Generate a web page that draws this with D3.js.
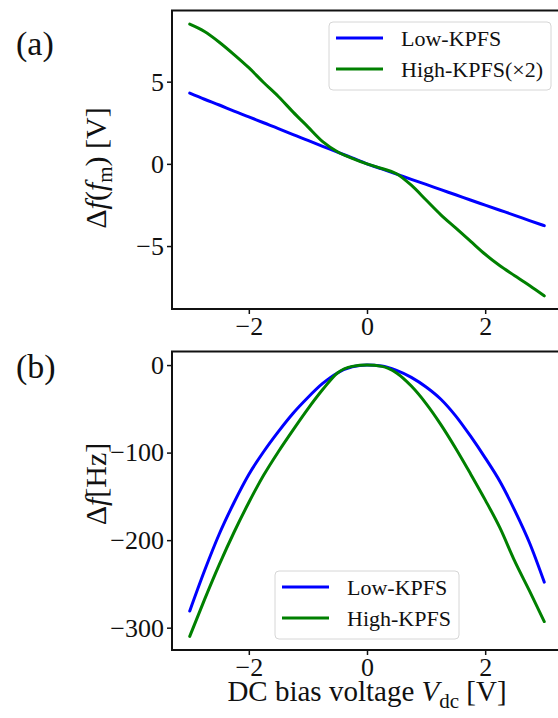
<!DOCTYPE html>
<html>
<head>
<meta charset="utf-8">
<script src="https://cdn.jsdelivr.net/npm/d3@7"></script>
<style>
  body { margin: 0; background: #fff; }
  svg { display: block; }
  svg text { font-family: 'Liberation Serif', 'Times New Roman', Times, serif; }
</style>
</head>
<body>
<div id="chart"></div>
<script>
// bias voltage samples (V)
const vdc = [-3, -2.75, -2.5, -2.25, -2, -1.75, -1.5, -1.25, -1, -0.75, -0.5, -0.25, 0,
  0.25, 0.5, 0.75, 1, 1.25, 1.5, 1.75, 2, 2.25, 2.5, 2.75, 3];

// panel (a): Δf(f_m) [V]
const lowKpfsA = [4.3, 3.93, 3.58, 3.21, 2.86, 2.5, 2.15, 1.78, 1.43, 1.07, 0.72, 0.36, 0.0,
  -0.31, -0.62, -0.94, -1.25, -1.57, -1.88, -2.2, -2.51, -2.82, -3.13, -3.45, -3.76];
const highKpfsA = [8.5, 8.05, 7.4, 6.65, 5.85, 4.95, 4.1, 3.15, 2.25, 1.35, 0.74, 0.34, 0.0,
  -0.28, -0.6, -1.3, -2.2, -3.1, -3.9, -4.7, -5.5, -6.2, -6.8, -7.4, -8.03];

// panel (b): Δf [Hz]
const lowKpfsB = [-281, -235, -193, -157, -125, -99, -76, -55, -37, -21, -9, -2, 0,
  -1, -6, -14, -25, -39, -58, -81, -106, -133, -166, -203, -248];
const highKpfsB = [-310, -268, -228, -191, -157, -126, -99, -74, -50, -28, -9, -1.5, 0,
  -1.5, -9, -24, -44, -68, -95, -124, -154, -186, -224, -258, -293];

const xTicks = [-2, 0, 2];
const yTicksA = [-5, 0, 5];
const yTicksB = [0, -100, -200, -300];

const width = 558, height = 718;
const left = 172, right = 562;
const serif = "'Liberation Serif', 'Times New Roman', Times, serif";

const svg = d3.select('#chart')
  .append('svg')
  .attr('width', width)
  .attr('height', height);

const x = d3.scaleLinear().domain([-3.3, 3.3]).range([left, right]);
const fmt = d3.format('d');

function drawPanel(opts) {
  const y = d3.scaleLinear().domain(opts.yDomain).range([opts.bottom, opts.top]);
  const g = svg.append('g');

  const line = d3.line()
    .x((d, i) => x(vdc[i]))
    .y((d) => y(d))
    .curve(d3.curveMonotoneX);

  opts.series.forEach((s) => {
    g.append('path')
      .datum(s.values)
      .attr('fill', 'none')
      .attr('stroke', s.color)
      .attr('stroke-width', 3)
      .attr('stroke-linejoin', 'round')
      .attr('stroke-linecap', 'round')
      .attr('d', line);
  });

  // frame
  g.append('rect')
    .attr('x', left)
    .attr('y', opts.top)
    .attr('width', right - left)
    .attr('height', opts.bottom - opts.top)
    .attr('fill', 'none')
    .attr('stroke', '#111')
    .attr('stroke-width', 2);

  const xAxis = g.append('g')
    .attr('transform', 'translate(0,' + opts.bottom + ')')
    .call(d3.axisBottom(x).tickValues(xTicks).tickFormat(fmt)
      .tickSize(5).tickSizeOuter(0).tickPadding(3));
  const yAxis = g.append('g')
    .attr('transform', 'translate(' + left + ',0)')
    .call(d3.axisLeft(y).tickValues(opts.yTicks).tickFormat(fmt)
      .tickSize(5).tickSizeOuter(0).tickPadding(3));

  [xAxis, yAxis].forEach((ax) => {
    ax.select('.domain').remove();
    ax.attr('font-family', serif).attr('font-size', 26);
    ax.selectAll('line').attr('stroke', '#111').attr('stroke-width', 1.5);
    ax.selectAll('text').attr('fill', '#111').style('font-family', serif).style('font-size', '26px');
  });
  xAxis.selectAll('text').attr('dy', '0.71em');

  // legend
  const lg = g.append('g').attr('transform', 'translate(' + opts.legend.x + ',' + opts.legend.y + ')');
  lg.append('rect')
    .attr('width', opts.legend.w)
    .attr('height', 68)
    .attr('rx', 4)
    .attr('fill', 'rgba(255,255,255,0.8)')
    .attr('stroke', '#d6d6d6')
    .attr('stroke-width', 1);
  opts.series.forEach((s, i) => {
    lg.append('line')
      .attr('x1', 7).attr('x2', 54)
      .attr('y1', 16 + i * 31).attr('y2', 16 + i * 31)
      .attr('stroke', s.color)
      .attr('stroke-width', 3);
    lg.append('text')
      .attr('x', 72)
      .attr('y', 24 + i * 31)
      .style('font-size', '22px')
      .attr('fill', '#111')
      .text(s.name);
  });

  // panel tag
  svg.append('text')
    .attr('x', 16)
    .attr('y', opts.tagY)
    .style('font-size', '34px')
    .attr('fill', '#111')
    .text(opts.tag);

  return g;
}

drawPanel({
  top: 10.5, bottom: 309,
  yDomain: [-8.83, 9.33],
  yTicks: yTicksA,
  tag: '(a)', tagY: 55,
  legend: { x: 329, y: 22, w: 222 },
  series: [
    { name: 'Low-KPFS', color: '#0000ff', values: lowKpfsA },
    { name: 'High-KPFS(×2)', color: '#008000', values: highKpfsA },
  ],
});

drawPanel({
  top: 351.5, bottom: 650,
  yDomain: [-325.5, 15.5],
  yTicks: yTicksB,
  tag: '(b)', tagY: 378,
  legend: { x: 275, y: 571, w: 184 },
  series: [
    { name: 'Low-KPFS', color: '#0000ff', values: lowKpfsB },
    { name: 'High-KPFS', color: '#008000', values: highKpfsB },
  ],
});

// y label (a): Δf(f_m) [V]
const yla = svg.append('text')
  .attr('transform', 'translate(106,168) rotate(-90)')
  .attr('text-anchor', 'middle')
  .style('font-size', '30px')
  .attr('fill', '#111');
yla.append('tspan').text('Δ');
yla.append('tspan').style('font-style', 'italic').text('f');
yla.append('tspan').text('(');
yla.append('tspan').style('font-style', 'italic').text('f');
yla.append('tspan').attr('dy', 6).style('font-size', '21px').text('m');
yla.append('tspan').attr('dy', -6).text(') [V]');

// y label (b): Δf[Hz]
const ylb = svg.append('text')
  .attr('transform', 'translate(106,484) rotate(-90)')
  .attr('text-anchor', 'middle')
  .style('font-size', '30px')
  .attr('fill', '#111');
ylb.append('tspan').text('Δ');
ylb.append('tspan').style('font-style', 'italic').text('f');
ylb.append('tspan').text('[Hz]');

// x label
const xl = svg.append('text')
  .attr('x', 367)
  .attr('y', 701)
  .attr('text-anchor', 'middle')
  .style('font-size', '29px')
  .attr('fill', '#111');
xl.append('tspan').text('DC bias voltage ');
xl.append('tspan').style('font-style', 'italic').text('V');
xl.append('tspan').attr('dy', 7).style('font-size', '21px').text('dc');
xl.append('tspan').attr('dy', -7).text(' [V]');
</script>
</body>
</html>
